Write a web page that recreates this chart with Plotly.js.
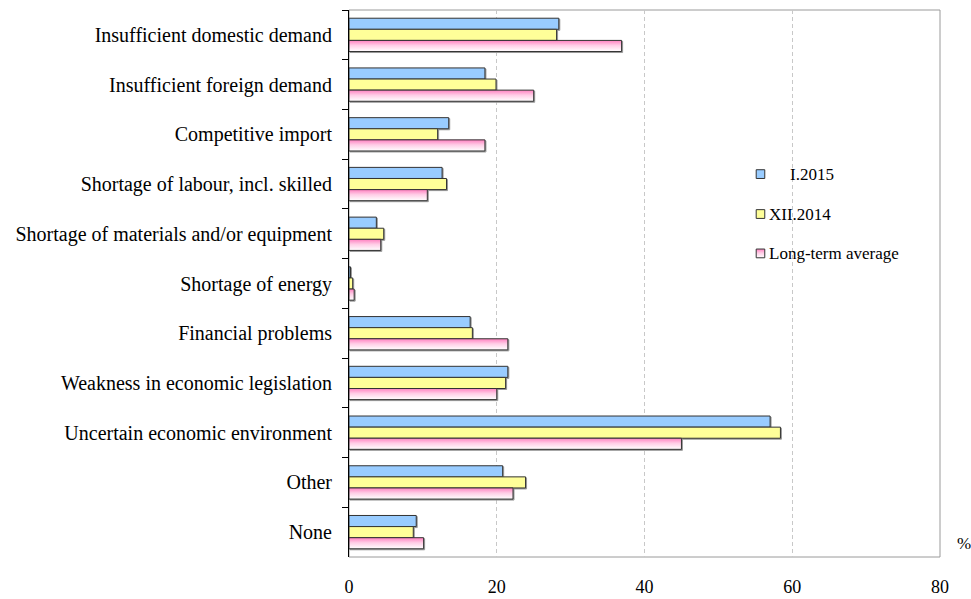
<!DOCTYPE html>
<html>
<head>
<meta charset="utf-8">
<script src="https://cdn.plot.ly/plotly-3.0.1.min.js"></script>
<style>
  html, body { margin: 0; padding: 0; background: #fff; }
  #chart { width: 971px; height: 599px; }
</style>
</head>
<body>
<div id="chart"></div>
<script>
// Obstacles to business activity, share of respondents (%)
const categories = [
  "Insufficient domestic demand",
  "Insufficient foreign demand",
  "Competitive import",
  "Shortage of labour, incl. skilled",
  "Shortage of materials and/or equipment",
  "Shortage of energy",
  "Financial problems",
  "Weakness in economic legislation",
  "Uncertain economic environment",
  "Other",
  "None"
];
const seriesNames = ["I.2015", "XII.2014", "Long-term average"];
const jan2015 = [28.4, 18.4, 13.5, 12.6, 3.7, 0.2, 16.4, 21.5, 57.0, 20.8, 9.1];
const dec2014 = [28.1, 19.9, 12.0, 13.2, 4.7, 0.5, 16.7, 21.2, 58.4, 23.9, 8.7];
const longTermAvg = [36.9, 25.0, 18.4, 10.6, 4.3, 0.7, 21.5, 20.0, 45.0, 22.2, 10.1];
const xTicks = [0, 20, 40, 60, 80];

const serif = "Liberation Serif";
const seriesColors = ["#99ccff", "#ffff99", "#ffb3d9"];

function barTrace(name, values, color) {
  return {
    type: "bar",
    orientation: "h",
    name: name,
    x: values,
    y: categories,
    marker: { color: color, line: { color: "#333333", width: 1 } },
    hoverinfo: "x+name"
  };
}

const traces = [
  barTrace(seriesNames[0], jan2015, seriesColors[0]),
  barTrace(seriesNames[1], dec2014, seriesColors[1]),
  barTrace(seriesNames[2], longTermAvg, seriesColors[2])
];

// Hand-built legend: small squares with labels beside them
const legendX = 0.689;      // paper x of the square's left edge
const legendY = [0.700, 0.627, 0.555]; // paper y of each row's centre
const sqW = 0.0145, sqH = 0.016;
const legendShapes = legendY.map(function (y, i) {
  return {
    type: "rect", xref: "paper", yref: "paper",
    x0: legendX, x1: legendX + sqW, y0: y - sqH / 2, y1: y + sqH / 2,
    fillcolor: seriesColors[i], line: { color: "#333333", width: 1 }, layer: "above"
  };
});
const legendLabelX = [legendX + 0.053, legendX + 0.018, legendX + 0.018];
const legendAnnotations = legendY.map(function (y, i) {
  return {
    text: seriesNames[i], xref: "paper", yref: "paper",
    x: legendLabelX[i], y: y, xanchor: "left", yanchor: "middle",
    showarrow: false,
    font: { family: serif, size: 17, color: "#000" }
  };
});

const layout = {
  width: 971,
  height: 599,
  margin: { l: 349, r: 31, t: 10, b: 42 },
  paper_bgcolor: "#ffffff",
  plot_bgcolor: "#ffffff",
  barmode: "group",
  bargap: 0.33,
  bargroupgap: 0,
  font: { family: serif, size: 20, color: "#000" },
  showlegend: false,
  xaxis: {
    range: [0, 80],
    tickvals: xTicks,
    ticktext: xTicks.map(String),
    showgrid: true,
    gridcolor: "#c8c8c8",
    griddash: "4px,3px",
    gridwidth: 1,
    zeroline: false,
    showline: false,
    ticks: "",
    ticklabelstandoff: 17,
    tickfont: { family: serif, size: 18, color: "#000" },
    fixedrange: true
  },
  yaxis: {
    type: "category",
    autorange: "reversed",
    showline: true,
    linecolor: "#000",
    linewidth: 1,
    ticks: "outside",
    tickson: "boundaries",
    ticklen: 6,
    tickcolor: "#000",
    showgrid: false,
    zeroline: false,
    ticklabelstandoff: 12,
    tickfont: { family: serif, size: 20, color: "#000" },
    fixedrange: true
  },
  shapes: [
    {
      type: "rect", xref: "paper", yref: "paper",
      x0: 0, x1: 1, y0: 0, y1: 1,
      line: { color: "#9a9a9a", width: 1 },
      layer: "below"
    }
  ].concat(legendShapes),
  annotations: [
    {
      text: "%", xref: "paper", yref: "paper",
      x: 1.04, y: 0.025, xanchor: "center", yanchor: "middle",
      showarrow: false,
      font: { family: serif, size: 17, color: "#000" }
    }
  ].concat(legendAnnotations)
};

Plotly.newPlot("chart", traces, layout, { staticPlot: true, displayModeBar: false }).then(function (gd) {
  // Give the long-term average bars a pink-to-white vertical gradient
  const svg = gd.querySelector("svg.main-svg");
  const ns = "http://www.w3.org/2000/svg";
  let defs = svg.querySelector("defs");
  if (!defs) { defs = document.createElementNS(ns, "defs"); svg.insertBefore(defs, svg.firstChild); }
  const grad = document.createElementNS(ns, "linearGradient");
  grad.setAttribute("id", "pinkFade");
  grad.setAttribute("x1", "0"); grad.setAttribute("y1", "0");
  grad.setAttribute("x2", "0"); grad.setAttribute("y2", "1");
  [["0", "#ff80c0"], ["0.45", "#ffcde6"], ["1", "#ffffff"]].forEach(function (s) {
    const stop = document.createElementNS(ns, "stop");
    stop.setAttribute("offset", s[0]);
    stop.setAttribute("stop-color", s[1]);
    grad.appendChild(stop);
  });
  defs.appendChild(grad);
  const barTraces = gd.querySelectorAll(".barlayer .trace.bars");
  barTraces.forEach(function (t, i) {
    t.querySelectorAll("path").forEach(function (p) {
      // soft grey drop shadow on every bar
      p.style.filter = "drop-shadow(1px 1px 0px #9a9a9a)";
      if (i === 2) p.style.fill = "url(#pinkFade)";
    });
  });
  // Same fill for the pink legend square
  const shapePaths = gd.querySelectorAll(".layer-above .shapelayer path");
  if (shapePaths.length >= 3) {
    shapePaths[shapePaths.length - 1].style.fill = "url(#pinkFade)";
  }
});
</script>
</body>
</html>
